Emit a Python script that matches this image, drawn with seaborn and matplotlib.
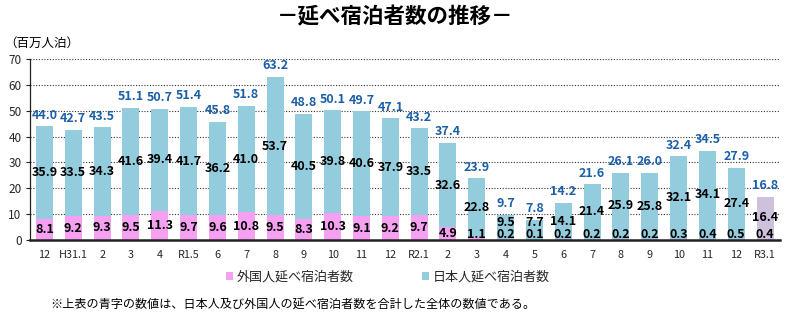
import matplotlib
matplotlib.use("Agg")
import matplotlib.pyplot as plt
from matplotlib.patches import Patch
import seaborn as sns
import pandas as pd
import numpy as np

categories = ['12', 'H31.1', '2', '3', '4', 'R1.5', '6', '7', '8', '9', '10', '11', '12',
              'R2.1', '2', '3', '4', '5', '6', '7', '8', '9', '10', '11', '12', 'R3.1']
foreign = [8.1, 9.2, 9.3, 9.5, 11.3, 9.7, 9.6, 10.8, 9.5, 8.3, 10.3, 9.1, 9.2,
           9.7, 4.9, 1.1, 0.2, 0.1, 0.2, 0.2, 0.2, 0.2, 0.3, 0.4, 0.5, 0.4]
japanese = [35.9, 33.5, 34.3, 41.6, 39.4, 41.7, 36.2, 41.0, 53.7, 40.5, 39.8, 40.6, 37.9,
            33.5, 32.6, 22.8, 9.5, 7.7, 14.1, 21.4, 25.9, 25.8, 32.1, 34.1, 27.4, 16.4]
total = [44.0, 42.7, 43.5, 51.1, 50.7, 51.4, 45.8, 51.8, 63.2, 48.8, 50.1, 49.7, 47.1,
         43.2, 37.4, 23.9, 9.7, 7.8, 14.2, 21.6, 26.1, 26.0, 32.4, 34.5, 27.9, 16.8]

title = '－延べ宿泊者数の推移－'
unit_label = '（百万人泊）'
legend_labels = ['外国人延べ宿泊者数', '日本人延べ宿泊者数']
footnote = '※上表の青字の数値は、日本人及び外国人の延べ宿泊者数を合計した全体の数値である。'

PINK = '#F5A0F0'
BLUE = '#93CDDD'
LAVENDER = '#CDC1DB'
LABEL_BLUE = '#1B5FA8'

sns.set_style('white')
plt.rcParams['font.family'] = ['Noto Sans CJK JP', 'DejaVu Sans']

idx = [f'c{i}' for i in range(len(categories))]
df = pd.DataFrame({'key': idx, 'cat': categories, 'foreign': foreign,
                   'japanese': japanese, 'total': total})
df['stack'] = df['foreign'] + df['japanese']

fig = plt.figure(figsize=(8, 3.31), dpi=100)
ax = fig.add_axes([30 / 800, 1 - 240 / 331, (779.5 - 30) / 800, (240 - 59) / 331])

top_palette = {k: BLUE for k in idx}
top_palette[idx[-1]] = LAVENDER
sns.barplot(data=df, x='key', y='stack', hue='key', palette=top_palette,
            width=0.59, legend=False, ax=ax, saturation=1, linewidth=0, order=idx)
sns.barplot(data=df, x='key', y='foreign', color=PINK, width=0.59, ax=ax,
            saturation=1, linewidth=0, order=idx)

ax.set_xlim(-0.5, len(categories) - 0.5)
ax.set_ylim(0, 70)
ax.set_yticks(range(0, 71, 10))
ax.set_xticks(range(len(categories)))
ax.set_xticklabels(categories, fontsize=7.8)
ax.tick_params(axis='x', length=0, pad=7)
ax.set_xticks(np.arange(0.5, len(categories) - 0.5, 1), minor=True)
ax.tick_params(axis='x', which='minor', length=3, width=0.8, color='#222222', direction='out')
ax.tick_params(axis='y', labelsize=8.5, length=3, width=0.8, pad=3, color='#222222', left=True)
ax.set_xlabel('')
ax.set_ylabel('')
ax.yaxis.grid(True, linestyle=(0, (1, 1.5)), color='#333333', linewidth=0.8)
ax.set_axisbelow(True)
for s in ['top', 'right']:
    ax.spines[s].set_visible(False)
ax.spines['left'].set_color('#222222')
ax.spines['left'].set_linewidth(0.9)
ax.spines['bottom'].set_color('#222222')
ax.spines['bottom'].set_linewidth(1.8)

for i in range(len(categories)):
    f = foreign[i]
    j = japanese[i]
    fy = max(f / 2, 2.2)
    ax.text(i, fy, f'{f:.1f}', ha='center', va='center', fontsize=9,
            fontweight='bold', color='black')
    jy = max(f + j / 2, fy + 4.7)
    ax.text(i, jy, f'{j:.1f}', ha='center', va='center', fontsize=9,
            fontweight='bold', color='black')
    ax.annotate(f'{total[i]:.1f}', xy=(i, f + j), xytext=(0, 8), textcoords='offset points',
                ha='center', va='center', fontsize=9, fontweight='bold', color=LABEL_BLUE)

fig.text(395 / 800, 1 - 17 / 331, title, ha='center', va='center', fontsize=15.5,
         fontweight='bold', color='black')
fig.text(4 / 800, 1 - 43 / 331, unit_label, ha='left', va='center', fontsize=9,
         color='black')

handles = [Patch(facecolor=PINK, edgecolor='none'), Patch(facecolor=BLUE, edgecolor='none')]
fig.legend(handles, legend_labels, loc='center', bbox_to_anchor=(388 / 800, 1 - 277 / 331),
           ncol=2, frameon=False, fontsize=9.4, handlelength=0.55, handleheight=0.55,
           handletextpad=0.3, columnspacing=5.2, borderpad=0)

fig.text(50 / 800, 1 - 305 / 331, footnote, ha='left', va='center', fontsize=8.7,
         color='black')

fig.savefig('out.png', dpi=100)
